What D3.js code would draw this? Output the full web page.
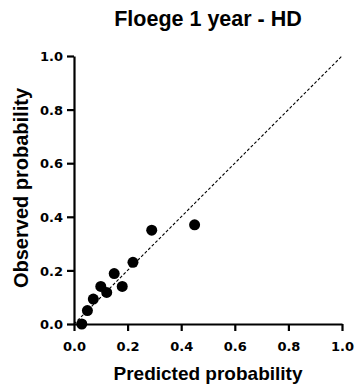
<!DOCTYPE html>
<html>
<head>
<meta charset="utf-8">
<script src="https://cdn.jsdelivr.net/npm/d3@7"></script>
<style>
body { margin: 0; background: #fff; }
text { font-family: "Liberation Sans", Arial, sans-serif; font-weight: bold; fill: #000; }
</style>
</head>
<body>
<script>
var svgWidth = 355;
var svgHeight = 390;
var margin = {top: 56, right: 13, bottom: 66, left: 74};

var title = "Floege 1 year - HD";
var xTitle = "Predicted probability";
var yTitle = "Observed probability";
var tickValues = [0, 0.2, 0.4, 0.6, 0.8, 1.0];

// predicted vs observed
var predicted = [0.029, 0.05, 0.072, 0.10, 0.122, 0.15, 0.18, 0.22, 0.29, 0.45];
var observed  = [0.0, 0.05, 0.093, 0.14, 0.118, 0.188, 0.14, 0.23, 0.35, 0.37];
var refLine = [0, 1];

var w = svgWidth - margin.left - margin.right;
var h = svgHeight - margin.top - margin.bottom;

var svg = d3.select('body').append('svg')
	.attr('width', svgWidth)
	.attr('height', svgHeight);

var g = svg.append('g')
	.attr('transform', 'translate(' + margin.left + ',' + margin.top + ')');

var x = d3.scaleLinear().domain([0, 1]).range([0, w]);
var y = d3.scaleLinear().domain([0, 1]).range([h, 0]);

// x axis
var xAxis = g.append('g')
	.attr('transform', 'translate(0,' + h + ')')
	.call(d3.axisBottom(x).tickValues(tickValues).tickFormat(d3.format('.1f')).tickSize(7).tickSizeOuter(0));

// y axis
var yAxis = g.append('g')
	.call(d3.axisLeft(y).tickValues(tickValues).tickFormat(d3.format('.1f')).tickSize(7).tickSizeOuter(0));

[xAxis, yAxis].forEach(function(a) {
	a.select('.domain').attr('stroke', '#000').attr('stroke-width', 2.2);
	a.selectAll('.tick line').attr('stroke', '#000').attr('stroke-width', 2.2);
	a.selectAll('.tick text').style('font-size', '13px').style('font-weight', 'bold')
		.style('font-family', '"DejaVu Sans", Verdana, sans-serif').attr('fill', '#000');
});
xAxis.selectAll('.tick text').attr('y', 27).attr('dy', 0);
yAxis.selectAll('.tick text').attr('x', -11).attr('dy', '0.36em');

// diagonal reference
g.append('line')
	.attr('x1', x(refLine[0])).attr('y1', y(refLine[0]))
	.attr('x2', x(refLine[1])).attr('y2', y(refLine[1]))
	.attr('stroke', '#000')
	.attr('stroke-width', 1.1)
	.attr('stroke-dasharray', '3,2');

// points
g.selectAll('circle.pt')
	.data(predicted)
	.enter()
	.append('circle')
	.attr('class', 'pt')
	.attr('cx', function(d) { return x(d); })
	.attr('cy', function(d, i) { return y(observed[i]); })
	.attr('r', 5.5)
	.attr('fill', '#000');

// titles
svg.append('text')
	.attr('x', margin.left + w / 2)
	.attr('y', 26)
	.attr('text-anchor', 'middle')
	.style('font-size', '21.5px')
	.text(title);

svg.append('text')
	.attr('x', margin.left + w / 2)
	.attr('y', 380)
	.attr('text-anchor', 'middle')
	.style('font-size', '19px')
	.text(xTitle);

svg.append('text')
	.attr('transform', 'translate(28,188) rotate(-90)')
	.attr('text-anchor', 'middle')
	.style('font-size', '20px')
	.text(yTitle);
</script>
</body>
</html>
